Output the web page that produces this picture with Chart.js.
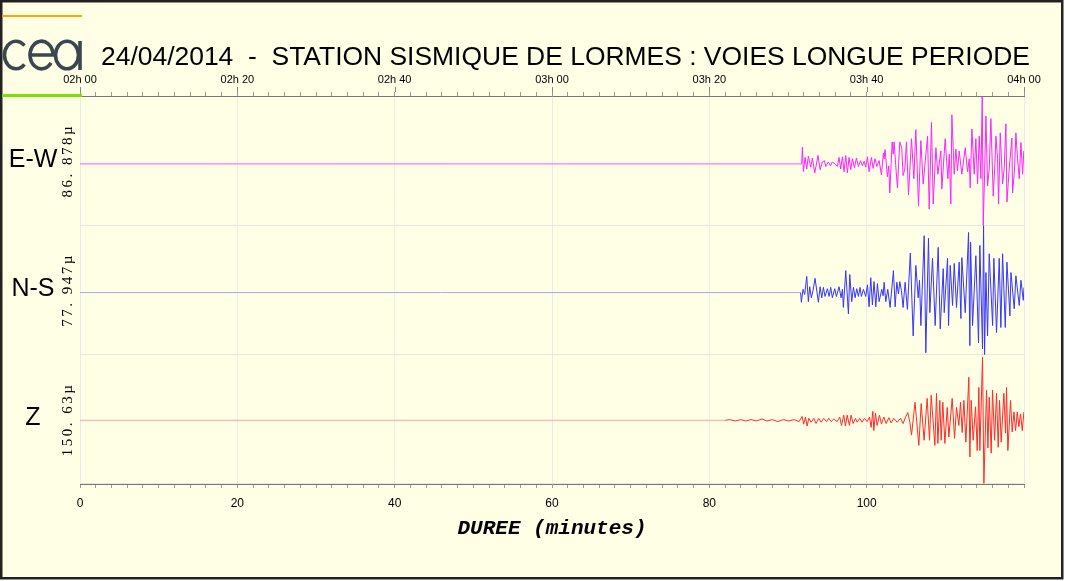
<!DOCTYPE html>
<html>
<head>
<meta charset="utf-8">
<script src="https://cdn.jsdelivr.net/npm/chart.js@4/dist/chart.umd.min.js"></script>
<style>
  html, body { margin: 0; padding: 0; background: #fff; }
  canvas { display: block; }
</style>
</head>
<body>
<canvas id="sismo" width="1065" height="581"></canvas>
<script>
// --- data (time in minutes since 02h 00, amplitude in % of full scale)
const ewTime = [0, 91.74, 91.83, 91.96, 92.17, 92.38, 92.59, 92.89, 93.10, 93.40, 93.82, 94.08, 94.37, 94.63, 94.80, 95.14, 95.39, 95.64, 95.98, 96.28,
  96.49, 96.70, 96.92, 97.13, 97.34, 97.55, 97.76, 97.98, 98.19, 98.44, 98.70, 98.95, 99.21, 99.46, 99.67, 99.88, 100.10, 100.31, 100.61, 100.82,
  101.07, 101.29, 101.58, 101.88, 102.13, 102.22, 102.34, 102.64, 102.81, 102.94, 103.24, 103.37, 103.49, 103.70, 103.91, 104.21, 104.46, 104.63, 104.85, 105.06,
  105.32, 105.70, 106.00, 106.25, 106.59, 106.89, 107.18, 107.74, 107.95, 108.24, 108.46, 108.80, 109.05, 109.43, 109.56, 109.98, 110.32, 110.50, 110.70, 110.83,
  111.13, 111.34, 111.55, 111.76, 112.10, 112.53, 112.82, 113.04, 113.16, 113.38, 113.67, 113.88, 114.10, 114.31, 114.52, 114.69, 114.82, 114.99, 115.16, 115.37,
  115.58, 115.79, 116.09, 116.30, 116.43, 116.64, 116.77, 116.98, 117.28, 117.49, 117.70, 117.83, 118.12, 118.46, 118.55, 118.80, 118.97, 119.18, 119.40, 119.61,
  119.82, 119.98];
const ewAmp = [0, 0, 26, -12, 10, -8, 12, -5, 9, -14, 13, -9, 3, 5, -4, 3, -3, 3, 0, -4,
  10, -8, 11, -12, 13, -14, 10, -9, 8, -6, 9, -4, 5, -3, 4, -5, 11, -12, 10, -7,
  8, -4, 5, -17, 17, 8, 22, -20, -3, -45, 34, 15, 34, -3, -37, 34, 24, -18, -8, 34,
  -48, 39, -23, 53, -65, 36, -31, 43, -70, 64, -62, 25, -16, 20, -39, 39, -23, 15, -62, 76,
  -16, 23, -11, 20, -16, 25, -12, 8, -37, 54, -16, 39, -31, 43, -23, 105, -95, -16, 74, -34,
  -8, 70, -50, 0, 43, 8, -62, 48, -31, -5, 62, -59, -8, 40, -45, -8, 48, 8, -23, 33,
  -16, 20];

const nsTime = [0, 91.60, 91.70, 91.91, 92.12, 92.38, 92.59, 92.76, 92.97, 93.18, 93.44, 93.86, 94.08, 94.29, 94.50, 94.71, 95.01, 95.22, 95.43, 95.64,
  95.94, 96.15, 96.49, 96.75, 96.92, 97.04, 97.34, 97.68, 97.85, 98.10, 98.32, 98.53, 98.74, 98.95, 99.16, 99.33, 99.59, 99.88, 100.10, 100.31,
  100.52, 100.73, 100.94, 101.16, 101.37, 101.58, 101.92, 102.09, 102.22, 102.43, 102.68, 102.98, 103.40, 103.62, 103.83, 104.04, 104.21, 104.42, 104.63, 104.89,
  105.18, 105.55, 105.91, 106.25, 106.55, 106.72, 106.89, 107.31, 107.52, 107.86, 108.03, 108.37, 108.71, 109.09, 109.35, 109.73, 109.86, 110.28, 110.41, 110.62,
  110.92, 111.13, 111.42, 111.76, 111.98, 112.10, 112.53, 112.95, 113.12, 113.21, 113.46, 113.88, 114.22, 114.39, 114.73, 114.86, 114.99, 115.16, 115.37, 115.58,
  116.01, 116.17, 116.51, 116.85, 117.06, 117.28, 117.62, 117.83, 118.21, 118.34, 118.76, 118.97, 119.40, 119.61, 119.91, 120.00];
const nsAmp = [0, 0, -15, 5, -3, 25, -14, 9, -8, 3, 22, -15, 9, -8, 8, -6, 6, -6, 8, -8,
  6, -6, 9, -8, 5, -23, 34, -33, 28, -14, 8, -8, 6, -6, 8, -6, 5, -6, 12, -22,
  23, -19, 17, -22, 14, -14, 5, -5, 16, -14, 5, -23, 34, -22, 16, -2, 17, 3, -23, 16,
  -26, 61, -67, 42, -8, 19, -51, 88, -93, 84, -31, 53, -51, 70, -56, 37, -31, 53, -51, 42,
  -20, 45, -23, 47, -40, 54, -31, 93, -82, 78, -51, 57, -78, 73, -87, 104, -96, 31, -67, 60,
  -51, 53, -62, 53, -54, 60, -54, 47, -36, 31, -25, 26, -20, 19, -12, 8];

const zTime = [0, 82.04, 82.6, 83.3, 84.0, 84.6, 85.3, 86.0, 86.7, 87.3, 88.0, 88.7, 89.4, 90.1, 90.8, 91.4, 91.79, 92.00, 92.22, 92.43,
  92.64, 92.94, 93.28, 93.57, 93.91, 94.21, 94.55, 94.89, 95.18, 95.48, 95.82, 96.24, 96.58, 96.80, 97.09, 97.30, 97.52, 97.81, 98.02, 98.28,
  98.58, 98.79, 99.13, 99.42, 99.72, 100.06, 100.36, 100.57, 100.78, 100.91, 101.12, 101.33, 101.63, 101.88, 102.18, 102.48, 102.82, 103.11, 103.45, 103.88,
  104.30, 104.64, 104.94, 105.23, 105.49, 105.70, 106.15, 106.63, 106.93, 107.30, 107.69, 107.99, 108.20, 108.67, 108.88, 109.05, 109.30, 109.47, 109.68, 109.94,
  110.24, 110.45, 110.87, 111.17, 111.42, 111.72, 111.93, 112.14, 112.36, 112.61, 112.99, 113.12, 113.29, 113.54, 113.84, 114.05, 114.26, 114.39, 114.73, 114.90,
  115.24, 115.41, 115.58, 115.83, 116.00, 116.26, 116.51, 116.72, 116.89, 117.10, 117.44, 117.66, 117.78, 117.95, 118.29, 118.50, 118.72, 118.93, 119.14, 119.35,
  119.56, 119.78, 119.99];
const zAmp = [0, 0, 1, -1, 1, -1, 1, -1, 2, -1, 1, -2, 1, -1, 1, -2, 6, -6, 5, -9,
  3, -3, 3, -5, 3, -3, 3, -2, 3, -2, 2, -2, 5, -8, 8, -9, 8, -8, 8, -5,
  3, -3, 3, -3, 3, -2, 5, -11, 14, -16, 11, -8, 8, -6, 5, -5, 4, -4, 3, -3,
  3, -5, 5, 12, -3, -23, 28, -39, 26, -31, 34, -31, 39, -39, 42, -36, 31, -31, 28, -36,
  20, -26, 34, -28, 20, -8, 28, -19, 31, -34, 67, -57, 31, -31, 21, -47, 51, -47, 98, -98,
  47, -43, 36, -51, 47, -31, 42, -42, 31, -34, 42, -20, 51, -47, 31, -18, 13, -16, 13, -10,
  10, -16, 13];

const channels = ['E-W', 'N-S', 'Z'];
const fullScale = ['86. 878\u00b5', '77. 947\u00b5', '150. 63\u00b5'];
const topLabels = ['02h 00', '02h 20', '02h 40', '03h 00', '03h 20', '03h 40', '04h 00'];
const bottomLabels = ['0', '20', '40', '60', '80', '100', ''];
const titleText = '24/04/2014  -  STATION SISMIQUE DE LORMES : VOIES LONGUE PERIODE';

Chart.defaults.font.family = '"Liberation Sans", Arial, sans-serif';

const pts = (t, a) => t.map((x, i) => ({ x, y: a[i] }));
// quiet part of a trace (before the first arrival) is drawn paler
const quiet = (pale, until) => ({ borderColor: ctx => (ctx.p1.parsed.x <= until ? pale : undefined) });
const bandTicks = s => { s.ticks = [{ value: s.min }, { value: s.max }]; };
const band = (min, max) => ({
  type: 'linear', position: 'left', stack: 'voies', stackWeight: 1, min, max,
  afterBuildTicks: bandTicks,
  afterFit: s => { s.width = 80; },
  ticks: { display: false },
  grid: { color: '#e8e8e0', drawTicks: false },
  border: { display: false }
});

const decor = {
  id: 'decor',
  beforeDraw(chart) {
    const c = chart.ctx;
    c.save();
    c.fillStyle = '#ffffff';
    c.fillRect(0, 0, chart.width, chart.height);
    c.fillStyle = '#ffffe6';
    c.fillRect(2, 2, 1060, 576);
    c.restore();
  },
  afterDraw(chart) {
    const c = chart.ctx, top = chart.scales.xTop;
    c.save();
    // frame
    c.strokeStyle = '#222';
    c.lineWidth = 2.5;
    c.strokeRect(1.25, 1.25, 1061, 577);
    // logo
    c.fillStyle = '#ffa500';
    c.fillRect(2, 15, 80, 2);
    c.fillStyle = '#7ee000';
    c.fillRect(2, 94, 80, 3);
    c.strokeStyle = '#3a4750';
    c.lineWidth = 3.6;
    c.beginPath(); c.ellipse(16, 55, 11.5, 13.8, 0, 0.75, 2 * Math.PI - 0.75); c.stroke();
    c.beginPath(); c.ellipse(41.5, 55, 11.5, 13.8, 0, 0.6, 2 * Math.PI); c.lineTo(30, 55); c.stroke();
    c.beginPath(); c.ellipse(67, 55, 11.5, 13.8, 0, 0, 2 * Math.PI); c.stroke();
    c.beginPath(); c.moveTo(80, 41); c.lineTo(80, 70); c.stroke();
    // title
    c.fillStyle = '#000';
    c.font = '26px "Liberation Sans"';
    const w = c.measureText(titleText).width;
    c.font = (26 * 929 / w).toFixed(2) + 'px "Liberation Sans"';
    c.textAlign = 'left';
    c.textBaseline = 'alphabetic';
    c.fillText(titleText, 101, 65);
    // longer major ticks on the clock axis
    c.strokeStyle = '#888';
    c.lineWidth = 1;
    for (let v = 0; v <= 120; v += 20) {
      const x = Math.round(top.getPixelForValue(v)) + 0.5;
      c.beginPath(); c.moveTo(x, top.bottom - 4); c.lineTo(x, top.bottom - 9); c.stroke();
    }
    // channel names and full-scale values
    ['ew', 'ns', 'z'].forEach((id, i) => {
      const s = chart.scales[id];
      const mid = (s.top + s.bottom) / 2;
      c.fillStyle = '#000';
      c.font = '25px "Liberation Sans"';
      c.textAlign = 'center';
      c.textBaseline = 'alphabetic';
      c.letterSpacing = '0px';
      c.fillText(channels[i], 33, mid + 6);
      c.save();
      c.translate(72, mid);
      c.rotate(-Math.PI / 2);
      c.font = '15px "Liberation Serif"';
      c.letterSpacing = '2.5px';
      c.fillText(fullScale[i], 0, 0);
      c.restore();
    });
    c.restore();
  }
};

new Chart(document.getElementById('sismo'), {
  type: 'line',
  data: {
    datasets: [
      { label: 'E-W', data: pts(ewTime, ewAmp), yAxisID: 'ew', xAxisID: 'x', borderColor: '#ff22ff', borderWidth: 1, pointRadius: 0, tension: 0,
        segment: quiet('#ff55ff', 91.74) },
      { label: 'N-S', data: pts(nsTime, nsAmp), yAxisID: 'ns', xAxisID: 'x', borderColor: '#3535ff', borderWidth: 1, pointRadius: 0, tension: 0,
        segment: quiet('#a8a8ee', 91.60) },
      { label: 'Z', data: pts(zTime, zAmp), yAxisID: 'z', xAxisID: 'x', borderColor: '#ff2a2a', borderWidth: 1, pointRadius: 0, tension: 0,
        segment: quiet('#ffa0a0', 82.04) }
    ]
  },
  options: {
    responsive: false,
    animation: false,
    devicePixelRatio: 1,
    layout: { padding: { left: 0, right: 41, top: 0, bottom: 0 } },
    plugins: { legend: { display: false }, tooltip: { enabled: false } },
    scales: {
      x: {
        type: 'linear', position: 'bottom', min: 0, max: 120,
        afterFit: s => { s.height = 97; },
        ticks: {
          stepSize: 2, autoSkip: false, maxRotation: 0, padding: 8, color: '#000',
          font: { size: 12 },
          callback: v => (v % 20 === 0 ? bottomLabels[v / 20] : '')
        },
        grid: {
          color: ctx => (ctx.tick && ctx.tick.value % 20 === 0 ? '#ebebe3' : 'rgba(0,0,0,0)'),
          tickColor: '#999', tickLength: 4
        },
        border: { color: '#777', width: 1 },
        title: {
          display: true, text: 'DUREE (minutes)', color: '#000',
          font: { family: '"Liberation Mono", monospace', size: 21, weight: 'bold', style: 'italic' },
          padding: { top: 0, bottom: 40 }
        }
      },
      xTop: {
        type: 'linear', position: 'top', min: 0, max: 120,
        afterFit: s => { s.height = 96; },
        ticks: {
          stepSize: 2, autoSkip: false, maxRotation: 0, padding: 5, color: '#000',
          font: { size: 11 },
          callback: v => (v % 20 === 0 ? topLabels[v / 20] : '')
        },
        grid: { drawOnChartArea: false, tickColor: '#999', tickLength: 4 },
        border: { color: '#777', width: 1 }
      },
      z: band(-99, 102),
      ns: band(-96, 104),
      ew: band(-95, 105)
    }
  },
  plugins: [decor]
});
</script>
</body>
</html>
